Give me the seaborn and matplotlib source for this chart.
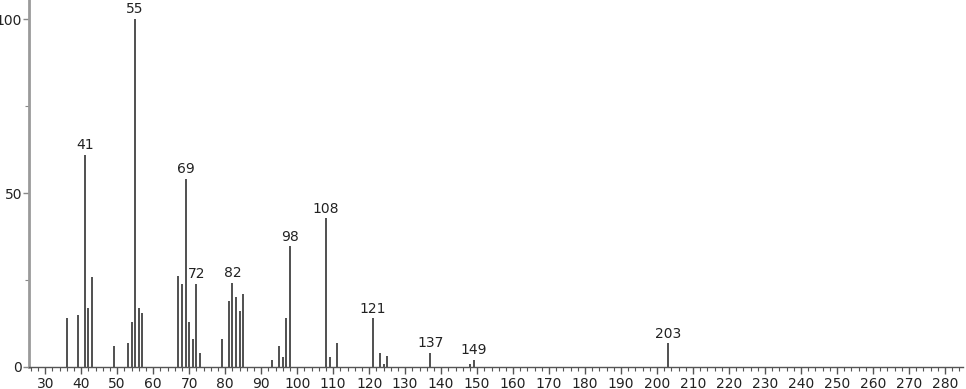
import matplotlib
matplotlib.use("Agg")
import matplotlib.pyplot as plt
from matplotlib.ticker import MultipleLocator, FixedLocator
import seaborn as sns
import pandas as pd

mz = [36, 39, 41, 42, 43, 49, 53, 54, 55, 56, 57, 67, 68, 69, 70, 71, 72, 73,
      79, 81, 82, 83, 84, 85, 93, 95, 96, 97, 98, 108, 109, 111, 121, 123, 124,
      125, 137, 148, 149, 203]
intensity = [14, 15, 61, 17, 26, 6, 6.8, 13, 100, 17, 15.5, 26.3, 24, 54, 13, 8,
             24, 4, 8, 19, 24.2, 20, 16, 21, 2, 6, 3, 14, 34.7, 42.7, 3, 7, 14, 4,
             1, 3.2, 4, 1, 2, 6.8]
labeled = [41, 55, 69, 72, 82, 98, 108, 121, 137, 149, 203]
x_ticks = list(range(30, 290, 10))
y_ticks = [0, 50, 100]

df = pd.DataFrame({"mz": mz, "intensity": intensity})

sns.set_style("white")
plt.rcParams['font.family'] = ['DejaVu Sans']

fig = plt.figure(figsize=(9.66, 3.89), dpi=100)
ax = fig.add_axes([29/966, 22/389, (963-29)/966, 367/389])

ax.vlines(df["mz"], 0, df["intensity"], colors="#505050", linewidth=1.4)

for m, v in zip(df["mz"], df["intensity"]):
    if m in labeled:
        ax.annotate(str(m), (m, v), xytext=(0, 2), textcoords="offset points",
                    ha="center", va="bottom", fontsize=10, color="#222222")

ax.set_xlim(25.5, 285)
ax.set_ylim(0, 105.5)
ax.xaxis.set_major_locator(FixedLocator(x_ticks))
ax.xaxis.set_minor_locator(MultipleLocator(2))
ax.yaxis.set_major_locator(FixedLocator(y_ticks))
ax.yaxis.set_minor_locator(FixedLocator([25, 75]))

for s in ["top", "right"]:
    ax.spines[s].set_visible(False)
ax.spines["left"].set_color("#9a9a9a")
ax.spines["left"].set_linewidth(2)
ax.spines["bottom"].set_color("#555555")
ax.spines["bottom"].set_linewidth(1)

ax.tick_params(axis="x", which="major", direction="out", length=5, width=1,
               color="#555555", labelsize=10, labelcolor="#222222", pad=2, bottom=True)
ax.tick_params(axis="x", which="minor", direction="out", length=3, width=0.8,
               color="#555555", bottom=True)
ax.tick_params(axis="y", which="major", direction="out", length=4, width=1,
               color="#888888", labelsize=10, labelcolor="#222222", pad=1, left=True)
ax.tick_params(axis="y", which="minor", direction="out", length=3, width=0.8,
               color="#888888", left=True)
ax.set_xlabel("")
ax.set_ylabel("")

fig.savefig("out.png", dpi=100)
